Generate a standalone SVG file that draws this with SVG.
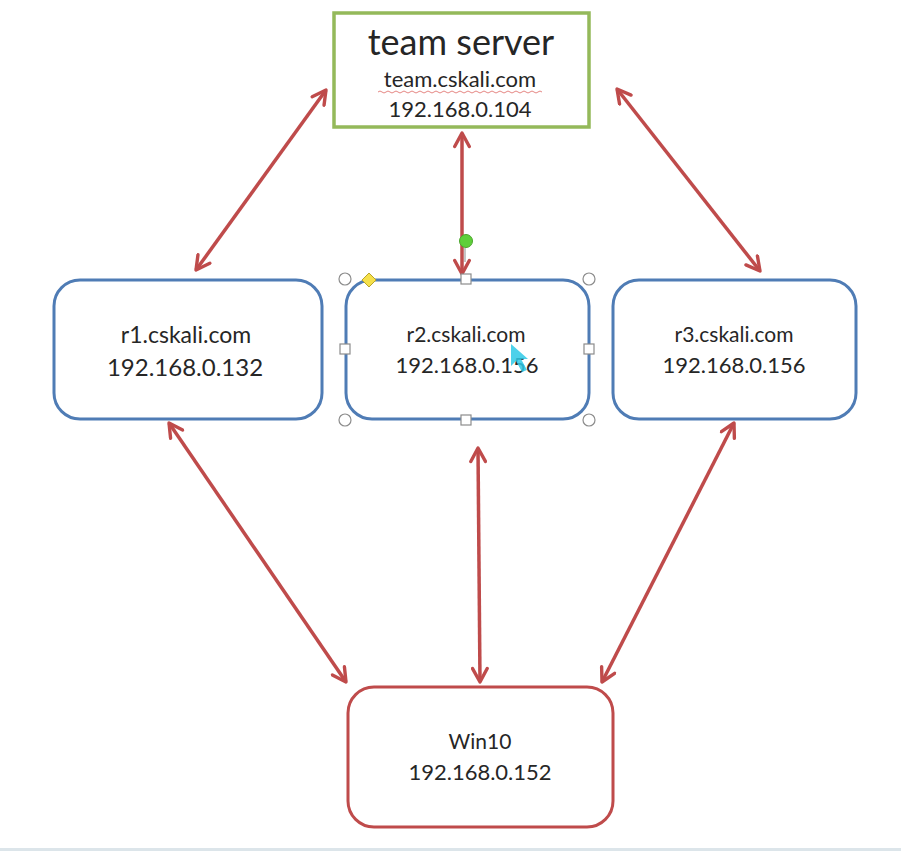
<svg xmlns="http://www.w3.org/2000/svg" width="901" height="851" viewBox="0 0 901 851">
<defs>
<marker id="ah" viewBox="0 0 16 16" refX="14" refY="8" markerWidth="18" markerHeight="18" markerUnits="userSpaceOnUse" orient="auto-start-reverse">
<path d="M2,1.5 L14,8 L2,14.5" fill="none" stroke="#bf4b4b" stroke-width="3" stroke-linecap="round" stroke-linejoin="round"/>
</marker>
</defs>
<style>
.lbl{font-family:Lato,"Liberation Sans",sans-serif;fill:#262626;text-anchor:middle}
.conn{stroke:#bf4b4b;stroke-width:3.5;fill:none;marker-start:url(#ah);marker-end:url(#ah)}
.blue{fill:#fff;stroke:#4f7cb5;stroke-width:3}
.hdl{fill:#fff;stroke:#8c8c8c;stroke-width:1.2}
</style>
<rect width="901" height="851" fill="#fff"/>
<rect x="0" y="848" width="901" height="3" fill="#dce5ea"/>

<g id="connectors">
<line class="conn" x1="326" y1="90" x2="196" y2="270"/>
<line class="conn" x1="462" y1="133" x2="462" y2="274"/>
<line class="conn" x1="617" y1="89" x2="760" y2="271"/>
<line class="conn" x1="169" y1="423" x2="346" y2="682"/>
<line class="conn" x1="478" y1="448" x2="480" y2="682"/>
<line class="conn" x1="734" y1="423" x2="602" y2="682"/>
</g>

<g id="team-server">
<rect x="334" y="13" width="255" height="114" fill="#fff" stroke="#94b95a" stroke-width="3.5"/>
<text class="lbl" x="461" y="55" font-size="36">team server</text>
<text class="lbl" x="460" y="87" font-size="22">team.cskali.com</text>
<path d="M378,92 q2,-2 4,0 t4,0 t4,0 t4,0 t4,0 t4,0 t4,0 t4,0 t4,0 t4,0 t4,0 t4,0 t4,0 t4,0 t4,0 t4,0 t4,0 t4,0 t4,0 t4,0 t4,0 t4,0 t4,0 t4,0 t4,0 t4,0 t4,0 t4,0 t4,0 t4,0 t4,0 t4,0 t4,0 t4,0 t4,0 t4,0 t4,0 t4,0 t4,0 t4,0 t4,0" fill="none" stroke="#d9534f" stroke-width="1" opacity="0.7"/>
<text class="lbl" x="460" y="117" font-size="22">192.168.0.104</text>
</g>

<g id="r1">
<rect class="blue" x="54" y="280" width="268" height="139" rx="26"/>
<text class="lbl" x="186" y="343" font-size="23">r1.cskali.com</text>
<text class="lbl" x="185" y="376" font-size="24">192.168.0.132</text>
</g>

<g id="r2">
<rect class="blue" x="346" y="280" width="243" height="139" rx="26"/>
<text class="lbl" x="466" y="342" font-size="21">r2.cskali.com</text>
<text class="lbl" x="467" y="373" font-size="22">192.168.0.156</text>
<line x1="465" y1="248" x2="465" y2="262" stroke="#8c8c8c" stroke-width="1"/>
<circle cx="466" cy="241" r="6.5" fill="#5fcf3a" stroke="#4aa52c" stroke-width="1"/>
<circle class="hdl" cx="345" cy="279" r="6"/>
<circle class="hdl" cx="589" cy="279" r="6"/>
<circle class="hdl" cx="345" cy="420" r="6"/>
<circle class="hdl" cx="589" cy="420" r="6"/>
<rect class="hdl" x="461" y="274" width="10" height="10"/>
<rect class="hdl" x="461" y="415" width="10" height="10"/>
<rect class="hdl" x="340" y="344" width="10" height="10"/>
<rect class="hdl" x="584" y="344" width="10" height="10"/>
<path d="M369,273 L376,280 L369,287 L362,280 Z" fill="#f5e04a" stroke="#b8a42a" stroke-width="1"/>
<path d="M511,344 L511,366 L516,361 L522,372 L527,370 L521,359 L528,359 Z" fill="#2ec9e6" opacity="0.85"/>
</g>

<g id="r3">
<rect class="blue" x="613" y="280" width="243" height="139" rx="26"/>
<text class="lbl" x="734" y="342" font-size="21">r3.cskali.com</text>
<text class="lbl" x="734" y="373" font-size="22">192.168.0.156</text>
</g>

<g id="win10">
<rect x="348" y="687" width="265" height="140" rx="26" fill="#fff" stroke="#bf4b4b" stroke-width="3"/>
<text class="lbl" x="480" y="749" font-size="21">Win10</text>
<text class="lbl" x="480" y="780" font-size="22">192.168.0.152</text>
</g>
</svg>
